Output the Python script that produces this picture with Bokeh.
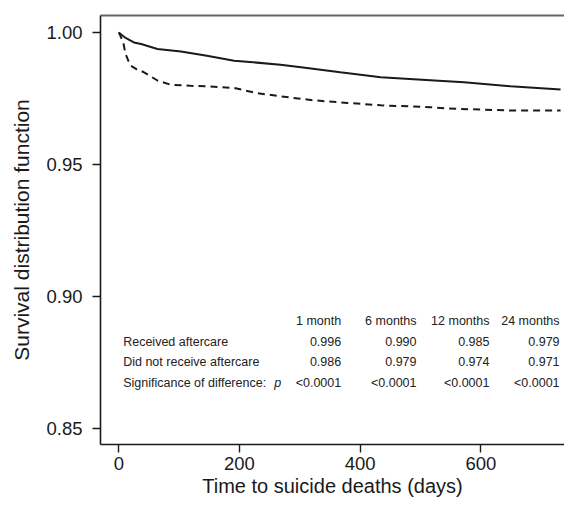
from bokeh.plotting import figure
from bokeh.models import LinearAxis, FixedTicker, PrintfTickFormatter, Range1d
from bokeh.core.properties import value
from bokeh.embed import file_html
from bokeh.resources import INLINE

# ---- data ----
aftercare_days = [0, 5, 12, 25, 37, 64, 103, 146, 191, 268, 302, 367, 434, 516, 572, 649, 732]
aftercare_surv = [1.000, 0.9990, 0.9978, 0.9962, 0.9956, 0.9937, 0.9928, 0.9912, 0.9893,
                  0.9878, 0.9868, 0.9849, 0.9830, 0.9819, 0.9811, 0.9796, 0.9784]

no_aftercare_days = [0, 4, 8, 11, 19, 30, 41, 64, 86, 119, 152, 190, 230, 268, 323, 379,
                     434, 516, 544, 599, 654, 732]
no_aftercare_surv = [1.000, 0.9980, 0.9956, 0.9920, 0.9875, 0.9860, 0.9850, 0.9818, 0.9802,
                     0.9798, 0.9795, 0.9790, 0.9770, 0.9758, 0.9743, 0.9733, 0.9724, 0.9717,
                     0.9712, 0.9708, 0.9704, 0.9704]

table_columns = ["1 month", "6 months", "12 months", "24 months"]
table_row_labels = ["Received aftercare", "Did not receive aftercare", "Significance of difference:"]
received_values = ["0.996", "0.990", "0.985", "0.979"]
not_received_values = ["0.986", "0.979", "0.974", "0.971"]
p_values = ["<0.0001", "<0.0001", "<0.0001", "<0.0001"]

x_ticks = [0, 200, 400, 600]
y_ticks = [0.85, 0.90, 0.95, 1.00]

# ---- layout constants ----
FONT = "Liberation Sans"
INK = "#1a1a1a"
col_right_x = [368.5, 493.3, 614.2, 730.3]
row_label_x = 7.3
row_y = [0.8909, 0.8829, 0.8754, 0.8673]   # header, received, not received, p
p_italic_x = 257.5

p = figure(width=564, height=503, output_backend="svg", toolbar_location=None,
           x_range=Range1d(-30.3, 738.5), y_range=Range1d(0.8440, 1.0064),
           min_border_left=100, min_border_right=0, min_border_top=15, min_border_bottom=59,
           x_axis_label="Time to suicide deaths (days)",
           y_axis_label="Survival distribution function")
p.grid.visible = False
p.outline_line_color = None
p.background_fill_color = "white"
p.border_fill_color = "white"

for ax in (p.xaxis[0], p.yaxis[0]):
    ax.axis_line_color = INK
    ax.axis_line_width = 1.6
    ax.major_tick_line_color = INK
    ax.major_tick_line_width = 1.4
    ax.major_tick_out = 8
    ax.major_tick_in = 0
    ax.minor_tick_line_color = None
    ax.major_label_text_font = FONT
    ax.major_label_text_font_size = "18.5px"
    ax.major_label_text_color = INK
    ax.axis_label_text_font = FONT
    ax.axis_label_text_font_style = "normal"
    ax.axis_label_text_color = INK

p.xaxis[0].axis_label_text_font_size = "20px"
p.yaxis[0].axis_label_text_font_size = "21px"
p.xaxis[0].ticker = FixedTicker(ticks=x_ticks)
p.yaxis[0].ticker = FixedTicker(ticks=y_ticks)
p.yaxis[0].formatter = PrintfTickFormatter(format="%.2f")
p.xaxis[0].major_label_standoff = 4
p.xaxis[0].axis_label_standoff = 2
p.yaxis[0].major_label_standoff = 10
p.yaxis[0].axis_label_standoff = 10

top = LinearAxis(ticker=FixedTicker(ticks=[]), major_tick_line_color=None,
                 minor_tick_line_color=None, axis_line_color="#666666",
                 axis_line_width=2, major_label_standoff=0)
p.add_layout(top, "above")

p.line(aftercare_days, aftercare_surv, line_color=INK, line_width=2)
p.line(no_aftercare_days, no_aftercare_surv, line_color=INK, line_width=2, line_dash="7 5")

# ---- table ----
tsize = "12.5px"
TCOL = "#222222"
p.text(x=col_right_x, y=[row_y[0]] * 4, text=table_columns, text_align="right",
       text_baseline="middle", text_font=value(FONT), text_font_size=tsize, text_color=TCOL)
for yy, vals in zip(row_y[1:], [received_values, not_received_values, p_values]):
    p.text(x=col_right_x, y=[yy] * 4, text=vals, text_align="right",
           text_baseline="middle", text_font=value(FONT), text_font_size=tsize, text_color=TCOL)
p.text(x=[row_label_x] * 3, y=row_y[1:], text=table_row_labels, text_align="left",
       text_baseline="middle", text_font=value(FONT), text_font_size=tsize, text_color=TCOL)
p.text(x=[p_italic_x], y=[row_y[3]], text=["p"], text_align="left", text_baseline="middle",
       text_font=value(FONT), text_font_size=tsize, text_font_style="italic", text_color=TCOL)

open("out.html", "w").write(file_html(p, INLINE))
